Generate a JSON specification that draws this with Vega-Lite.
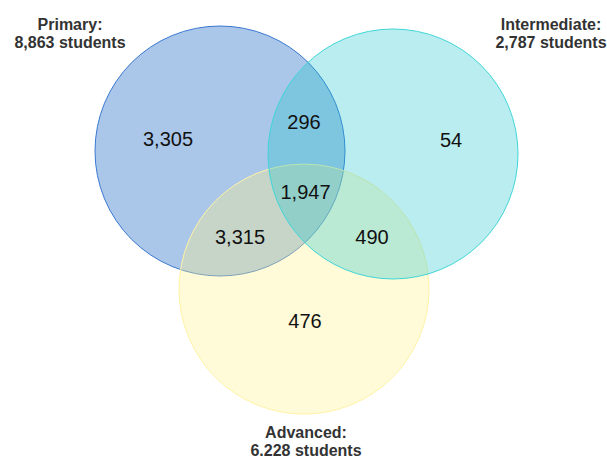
{
  "$schema": "https://vega.github.io/schema/vega-lite/v6.json",
  "width": 607,
  "height": 459,
  "autosize": {"type": "fit", "contains": "padding"},
  "padding": 0,
  "background": "white",
  "config": {"view": {"stroke": null}},
  "datasets": {
    "circles": [
      {"set": "Primary", "cx": 220, "cy": 152},
      {"set": "Advanced", "cx": 304, "cy": 291},
      {"set": "Intermediate", "cx": 393, "cy": 155}
    ],
    "regions": [
      {"region": "Primary only", "count": "3,305", "px": 168, "py": 141},
      {"region": "Primary & Intermediate", "count": "296", "px": 304, "py": 124},
      {"region": "Intermediate only", "count": "54", "px": 451, "py": 142},
      {"region": "All three", "count": "1,947", "px": 305.5, "py": 194},
      {"region": "Primary & Advanced", "count": "3,315", "px": 240, "py": 240},
      {"region": "Intermediate & Advanced", "count": "490", "px": 372, "py": 240},
      {"region": "Advanced only", "count": "476", "px": 305, "py": 324.5}
    ],
    "titles": [
      {"line": "Primary:", "px": 70, "py": 30},
      {"line": "8,863 students", "px": 70, "py": 48},
      {"line": "Intermediate:", "px": 551, "py": 30},
      {"line": "2,787 students", "px": 551, "py": 48},
      {"line": "Advanced:", "px": 306, "py": 441},
      {"line": "6.228 students", "px": 306, "py": 459}
    ]
  },
  "layer": [
    {
      "data": {"name": "circles"},
      "mark": {"type": "point", "shape": "circle", "filled": true, "size": 62500, "opacity": 1, "fillOpacity": 1, "strokeWidth": 1, "strokeOpacity": 1},
      "encoding": {
        "x": {"field": "cx", "type": "quantitative", "scale": {"domain": [0, 607], "nice": false, "zero": false}, "axis": null},
        "y": {"field": "cy", "type": "quantitative", "scale": {"domain": [0, 459], "nice": false, "zero": false, "reverse": true}, "axis": null},
        "fill": {"field": "set", "type": "nominal", "scale": {"domain": ["Primary", "Advanced", "Intermediate"], "range": ["rgb(170,198,233)", "rgba(255,241,141,0.35)", "rgba(25,195,205,0.3)"]}, "legend": null},
        "stroke": {"field": "set", "type": "nominal", "scale": {"domain": ["Primary", "Advanced", "Intermediate"], "range": ["#3b78d2", "#fff3a6", "#3fd6d8"]}, "legend": null}
      }
    },
    {
      "data": {"name": "regions"},
      "mark": {"type": "text", "font": "Liberation Sans", "fontSize": 20, "color": "#111111", "baseline": "middle", "align": "center"},
      "encoding": {
        "x": {"field": "px", "type": "quantitative"},
        "y": {"field": "py", "type": "quantitative"},
        "text": {"field": "count", "type": "nominal"}
      }
    },
    {
      "data": {"name": "titles"},
      "mark": {"type": "text", "font": "Liberation Sans", "fontSize": 16, "fontWeight": "bold", "color": "#333333", "baseline": "alphabetic", "align": "center"},
      "encoding": {
        "x": {"field": "px", "type": "quantitative"},
        "y": {"field": "py", "type": "quantitative"},
        "text": {"field": "line", "type": "nominal"}
      }
    }
  ]
}
